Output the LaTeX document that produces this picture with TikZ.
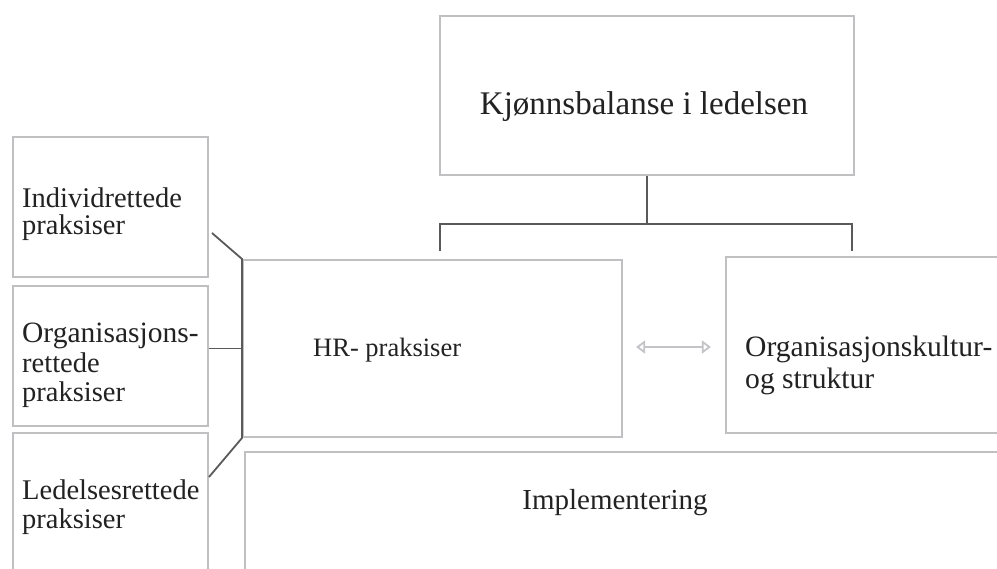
\documentclass[tikz,border=0pt]{standalone}
\usepackage{fontspec}
\setmainfont{Liberation Serif}
\usetikzlibrary{arrows.meta}
\definecolor{boxgray}{HTML}{C0C0C2}
\definecolor{linegray}{HTML}{5A5A5A}
\definecolor{txt}{HTML}{222222}
\definecolor{arrgray}{HTML}{C4C4C8}
\tikzset{
  box/.style={draw=boxgray, line width=2.2pt, rectangle, inner sep=0pt},
  conn/.style={draw=linegray, line width=1.8pt},
  lbl/.style={text=txt, inner sep=0pt, font=\fontsize{28.5}{30}\selectfont},
}
\begin{document}
\begin{tikzpicture}[x=1pt,y=-1pt]
\useasboundingbox (0,0) rectangle (997,569);
\clip (0,0) rectangle (997,569);
\fill[white] (0,0) rectangle (997,569);
% boxes
\node[box, minimum width=414pt, minimum height=159pt] (top) at (647,95.5) {};
\node[box, minimum width=379pt, minimum height=177pt] (hr) at (432.5,348.5) {};
\node[box, minimum width=290pt, minimum height=176pt] (org) at (871,345) {};
\node[box, minimum width=780pt, minimum height=140pt] (impl) at (635,522) {};
\node[box, minimum width=195pt, minimum height=140pt] (b1) at (110.5,207) {};
\node[box, minimum width=195pt, minimum height=140pt] (b2) at (110.5,356) {};
\node[box, minimum width=195pt, minimum height=160pt] (b3) at (110.5,513) {};
% texts
\node[lbl, anchor=base, font=\fontsize{33}{36}\selectfont] (ttop) at (644,115) {Kjønnsbalanse i ledelsen};
\node[lbl, anchor=base west, font=\fontsize{26.5}{30}\selectfont] (thr) at (313,357) {HR- praksiser};
\node[lbl, anchor=base west, font=\fontsize{29.6}{32}\selectfont] (torg1) at (745,357) {Organisasjonskultur-};
\node[lbl, anchor=base west, font=\fontsize{29.6}{32}\selectfont] (torg2) at (745,389) {og struktur};
\node[lbl, anchor=base, font=\fontsize{29}{30}\selectfont] (timpl) at (615,509) {Implementering};
\node[lbl, anchor=base west] (t11) at (22,208) {Individrettede};
\node[lbl, anchor=base west] (t12) at (22,235) {praksiser};
\node[lbl, anchor=base west, font=\fontsize{29.5}{30}\selectfont] (t21) at (22,343) {Organisasjons-};
\node[lbl, anchor=base west] (t22) at (22,373) {rettede};
\node[lbl, anchor=base west] (t23) at (22,402) {praksiser};
\node[lbl, anchor=base west] (t31) at (22,500) {Ledelsesrettede};
\node[lbl, anchor=base west] (t32) at (22,528) {praksiser};
% connectors top
\coordinate (j) at (top.south |- 0,224);
\coordinate (legl) at (440,251);
\coordinate (legr) at (852,251);
\draw[conn] (top.south) -- (j);
\draw[conn] (legl) |- (j) -| (legr);
% connectors left
\coordinate (c1) at (212,233);
\coordinate (c3) at (209,477);
\draw[conn] (c1) -- (hr.north west) -- (hr.south west) -- (c3);
\draw[conn] (b2.east |- hr.west) -- (hr.west);
% double arrow
\draw[draw=arrgray, line width=1.8pt, {Triangle[open,length=9pt,width=13pt]}-{Triangle[open,length=9pt,width=13pt]}]
  ([xshift=13pt]hr.east |- 0,347) -- ([xshift=-14pt]org.west |- 0,347);
\end{tikzpicture}
\end{document}
